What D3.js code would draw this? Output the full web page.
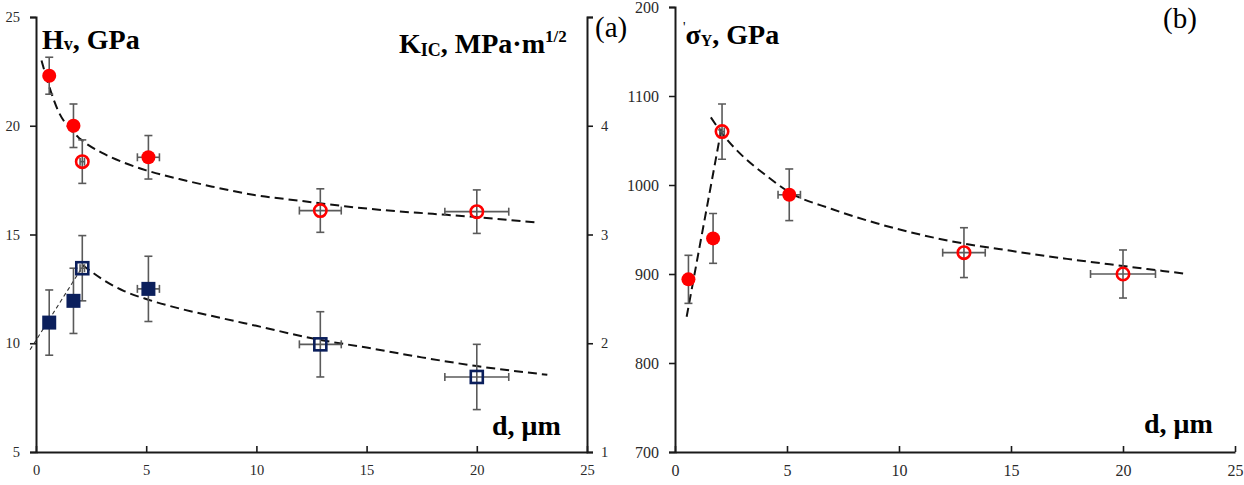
<!DOCTYPE html>
<html>
<head>
<meta charset="utf-8">
<script src="https://cdn.jsdelivr.net/npm/d3@7"></script>
<style>
  html, body { margin: 0; padding: 0; background: #fff; }
  svg { display: block; }
</style>
</head>
<body>
<svg id="chart" width="1244" height="485"></svg>
<script>
// Grain size d (µm) of the six samples and its spread
const grainSize = [0.6, 1.7, 2.1, 5.1, 12.9, 20.0];
const grainErr = [0, 0, 0.1, 0.5, 0.95, 1.45];
const openMarker = [false, false, true, false, true, true];

// Panel (a): Vickers hardness (GPa) and fracture toughness (MPa·m^1/2)
const hardness = [22.3, 20.0, 18.35, 18.55, 16.1, 16.05];
const hardnessErr = [0.85, 1.0, 1.0, 1.0, 1.0, 1.0];
const toughness = [2.19, 2.39, 2.69, 2.5, 1.99, 1.69];
const toughnessErr = [0.3, 0.3, 0.3, 0.3, 0.3, 0.3];

// Panel (b): yield stress
const yieldStress = [894, 940, 1060, 989, 924, 900];
const yieldErr = [27, 28, 31, 29, 28, 27];

// Trend curves
const hardnessTrendD = [0.25, 0.6, 1, 1.5, 2, 3, 4, 5, 6.5, 8, 10, 12, 14, 16, 18, 20, 22.7];
const hardnessTrendV = [23.0, 21.8, 20.7, 19.9, 19.4, 18.75, 18.3, 17.95, 17.55, 17.2, 16.8, 16.55, 16.3, 16.1, 15.95, 15.8, 15.55];
const toughRiseD = [-0.27, 2.1];
const toughRiseV = [1.94, 2.7];
const toughFallD = [2.1, 2.5, 3, 4, 5.1, 6.5, 8, 10, 12.9, 15, 17.5, 20, 23.2];
const toughFallV = [2.72, 2.66, 2.59, 2.48, 2.40, 2.32, 2.25, 2.16, 2.03, 1.96, 1.87, 1.79, 1.71];
const yieldRiseD = [0.52, 2.1];
const yieldRiseV = [852, 1067];
const yieldFallD = [1.6, 2.1, 3, 4, 5.1, 7, 9, 12.3, 15, 17.5, 20, 22.9];
const yieldFallV = [1076, 1058, 1033, 1012, 992, 973, 957, 937, 926, 917, 909, 900];

// Tick values (the top toughness tick carries no label: the panel tag sits there)
const dTicks = [0, 5, 10, 15, 20, 25];
const hardnessTicks = [5, 10, 15, 20, 25];
const toughnessTicks = [1, 2, 3, 4, 5];
const toughnessLabels = ["1", "2", "3", "4", ""];
const yieldTicks = [700, 800, 900, 1000, 1100, 1200];

const RED = "#ff0000";
const NAVY = "#0b1f5c";
const SERIF = "'Liberation Serif', 'Times New Roman', serif";

const svg = d3.select("#chart");

// Panel (b) is trimmed at its top-left corner, where panel (a) meets it
svg.append("defs").append("clipPath").attr("id", "panelB")
  .call(c => {
    c.append("rect").attr("x", 635).attr("y", 0).attr("width", 609).attr("height", 24);
    c.append("rect").attr("x", 0).attr("y", 24).attr("width", 1244).attr("height", 461);
  });

const xA = d3.scaleLinear([0, 25], [36, 587]);
const yH = d3.scaleLinear([5, 25], [452, 17]);
const yK = d3.scaleLinear([1, 5], [452, 17]);
const xB = d3.scaleLinear([0, 25], [675, 1235]);
const yS = d3.scaleLinear([700, 1200], [452, 7]);

function styleAxis(size) {
  return g => {
    g.attr("font-family", SERIF).attr("font-size", size);
    g.select(".domain").attr("stroke", "#1a1a1a").attr("stroke-width", 2);
    g.selectAll(".tick line").attr("stroke", "#1a1a1a").attr("stroke-width", 1.6);
    g.selectAll(".tick text").attr("font-family", SERIF).attr("font-size", size).attr("fill", "#2a2a2a");
  };
}

function dashed(g, xs, ys, sx, sy, width, dash, color) {
  const pts = xs.map((d, i) => [d, ys[i]]);
  g.append("path")
    .datum(pts)
    .attr("fill", "none")
    .attr("stroke", color)
    .attr("stroke-width", width)
    .attr("stroke-dasharray", dash)
    .attr("d", d3.line().x(p => sx(p[0])).y(p => sy(p[1])).curve(d3.curveMonotoneX));
}

function errorBars(g, xs, xe, ys, ye, sx, sy) {
  const cap = 4;
  const eg = g.append("g").attr("stroke", "#5a5a5a").attr("stroke-width", 1.6).attr("fill", "none");
  xs.forEach((d, i) => {
    const cx = sx(d), cy = sy(ys[i]);
    const y0 = sy(ys[i] - ye[i]), y1 = sy(ys[i] + ye[i]);
    eg.append("line").attr("x1", cx).attr("x2", cx).attr("y1", y0).attr("y2", y1);
    eg.append("line").attr("x1", cx - cap).attr("x2", cx + cap).attr("y1", y0).attr("y2", y0);
    eg.append("line").attr("x1", cx - cap).attr("x2", cx + cap).attr("y1", y1).attr("y2", y1);
    if (xe[i] > 0) {
      const x0 = sx(d - xe[i]), x1 = sx(d + xe[i]);
      eg.append("line").attr("x1", x0).attr("x2", x1).attr("y1", cy).attr("y2", cy);
      eg.append("line").attr("x1", x0).attr("x2", x0).attr("y1", cy - cap).attr("y2", cy + cap);
      eg.append("line").attr("x1", x1).attr("x2", x1).attr("y1", cy - cap).attr("y2", cy + cap);
    }
  });
}

function circles(g, xs, ys, sx, sy) {
  g.selectAll(null).data(xs).join("circle")
    .attr("cx", d => sx(d))
    .attr("cy", (d, i) => sy(ys[i]))
    .attr("r", (d, i) => openMarker[i] ? 6.2 : 7)
    .attr("fill", (d, i) => openMarker[i] ? "none" : RED)
    .attr("stroke", RED)
    .attr("stroke-width", (d, i) => openMarker[i] ? 2.6 : 0);
}

function squares(g, xs, ys, sx, sy) {
  g.selectAll(null).data(xs).join("rect")
    .attr("x", (d, i) => sx(d) - (openMarker[i] ? 6 : 7))
    .attr("y", (d, i) => sy(ys[i]) - (openMarker[i] ? 6 : 7))
    .attr("width", (d, i) => openMarker[i] ? 12 : 14)
    .attr("height", (d, i) => openMarker[i] ? 12 : 14)
    .attr("fill", (d, i) => openMarker[i] ? "none" : NAVY)
    .attr("stroke", NAVY)
    .attr("stroke-width", (d, i) => openMarker[i] ? 2.6 : 0);
}

// ---------- Panel (b): yield stress ----------
const pb = svg.append("g").attr("clip-path", "url(#panelB)");
pb.append("g").attr("transform", "translate(0,452)")
  .call(d3.axisBottom(xB).tickValues(dTicks).tickSizeInner(-6).tickSizeOuter(0).tickPadding(13))
  .call(styleAxis(16));
pb.append("g").attr("transform", "translate(675,0)")
  .call(d3.axisLeft(yS).tickValues(yieldTicks).tickFormat(d3.format("d")).tickSize(6).tickPadding(10))
  .call(styleAxis(16));

dashed(pb, yieldRiseD, yieldRiseV, xB, yS, 2, "9,5", "#111");
dashed(pb, yieldFallD, yieldFallV, xB, yS, 2, "9,5", "#111");
errorBars(pb, grainSize, grainErr, yieldStress, yieldErr, xB, yS);
circles(pb, grainSize, yieldStress, xB, yS);

pb.append("text").attr("x", 683).attr("y", 44)
  .attr("font-family", SERIF).attr("font-weight", "bold").attr("font-size", 28).attr("fill", "#000")
  .call(t => {
    t.append("tspan").attr("font-size", 14).attr("font-weight", "normal").attr("dy", -12).text("'");
    t.append("tspan").attr("dy", 12).text("σ");
    t.append("tspan").attr("font-size", 16).attr("dy", 2).text("Y");
    t.append("tspan").attr("dy", -2).text(", GPa");
  });
pb.append("text").attr("x", 1144).attr("y", 433)
  .attr("font-family", SERIF).attr("font-weight", "bold").attr("font-size", 28).attr("fill", "#000")
  .text("d, μm");
pb.append("text").attr("x", 1163).attr("y", 28)
  .attr("font-family", SERIF).attr("font-size", 29).attr("fill", "#000")
  .text("(b)");

// ---------- Panel (a): hardness and toughness ----------
const pa = svg.append("g");
pa.append("g").attr("transform", "translate(0,452)")
  .call(d3.axisBottom(xA).tickValues(dTicks).tickSizeInner(-6).tickSizeOuter(0).tickPadding(13))
  .call(styleAxis(14.5));
pa.append("g").attr("transform", "translate(36,0)")
  .call(d3.axisLeft(yH).tickValues(hardnessTicks).tickSize(6).tickPadding(10))
  .call(styleAxis(14.5));
pa.append("g").attr("transform", "translate(587,0)")
  .call(d3.axisRight(yK).tickValues(toughnessTicks).tickFormat((d, i) => toughnessLabels[i]).tickSize(6).tickPadding(8))
  .call(styleAxis(14.5));

dashed(pa, hardnessTrendD, hardnessTrendV, xA, yH, 2, "9,5", "#111");
dashed(pa, toughRiseD, toughRiseV, xA, yK, 1.1, "4,3", "#333");
dashed(pa, toughFallD, toughFallV, xA, yK, 2, "9,5", "#111");

errorBars(pa, grainSize, grainErr, hardness, hardnessErr, xA, yH);
errorBars(pa, grainSize, grainErr, toughness, toughnessErr, xA, yK);
circles(pa, grainSize, hardness, xA, yH);
squares(pa, grainSize, toughness, xA, yK);

pa.append("text").attr("x", 42).attr("y", 49)
  .attr("font-family", SERIF).attr("font-weight", "bold").attr("font-size", 28).attr("fill", "#000")
  .call(t => {
    t.append("tspan").text("H");
    t.append("tspan").attr("font-size", 18).attr("dy", 1).text("v");
    t.append("tspan").attr("dy", -1).text(", GPa");
  });
pa.append("text").attr("x", 399).attr("y", 53)
  .attr("font-family", SERIF).attr("font-weight", "bold").attr("font-size", 28).attr("fill", "#000")
  .call(t => {
    t.append("tspan").text("K");
    t.append("tspan").attr("font-size", 18).attr("dy", 3).text("IC");
    t.append("tspan").attr("dy", -3).text(", MPa·m");
    t.append("tspan").attr("font-size", 17).attr("dy", -11).text("1/2");
  });
pa.append("text").attr("x", 492).attr("y", 435)
  .attr("font-family", SERIF).attr("font-weight", "bold").attr("font-size", 28).attr("fill", "#000")
  .text("d, μm");

pa.append("text").attr("x", 595).attr("y", 37)
  .attr("font-family", SERIF).attr("font-size", 29).attr("fill", "#000")
  .text("(a)");
</script>
</body>
</html>
